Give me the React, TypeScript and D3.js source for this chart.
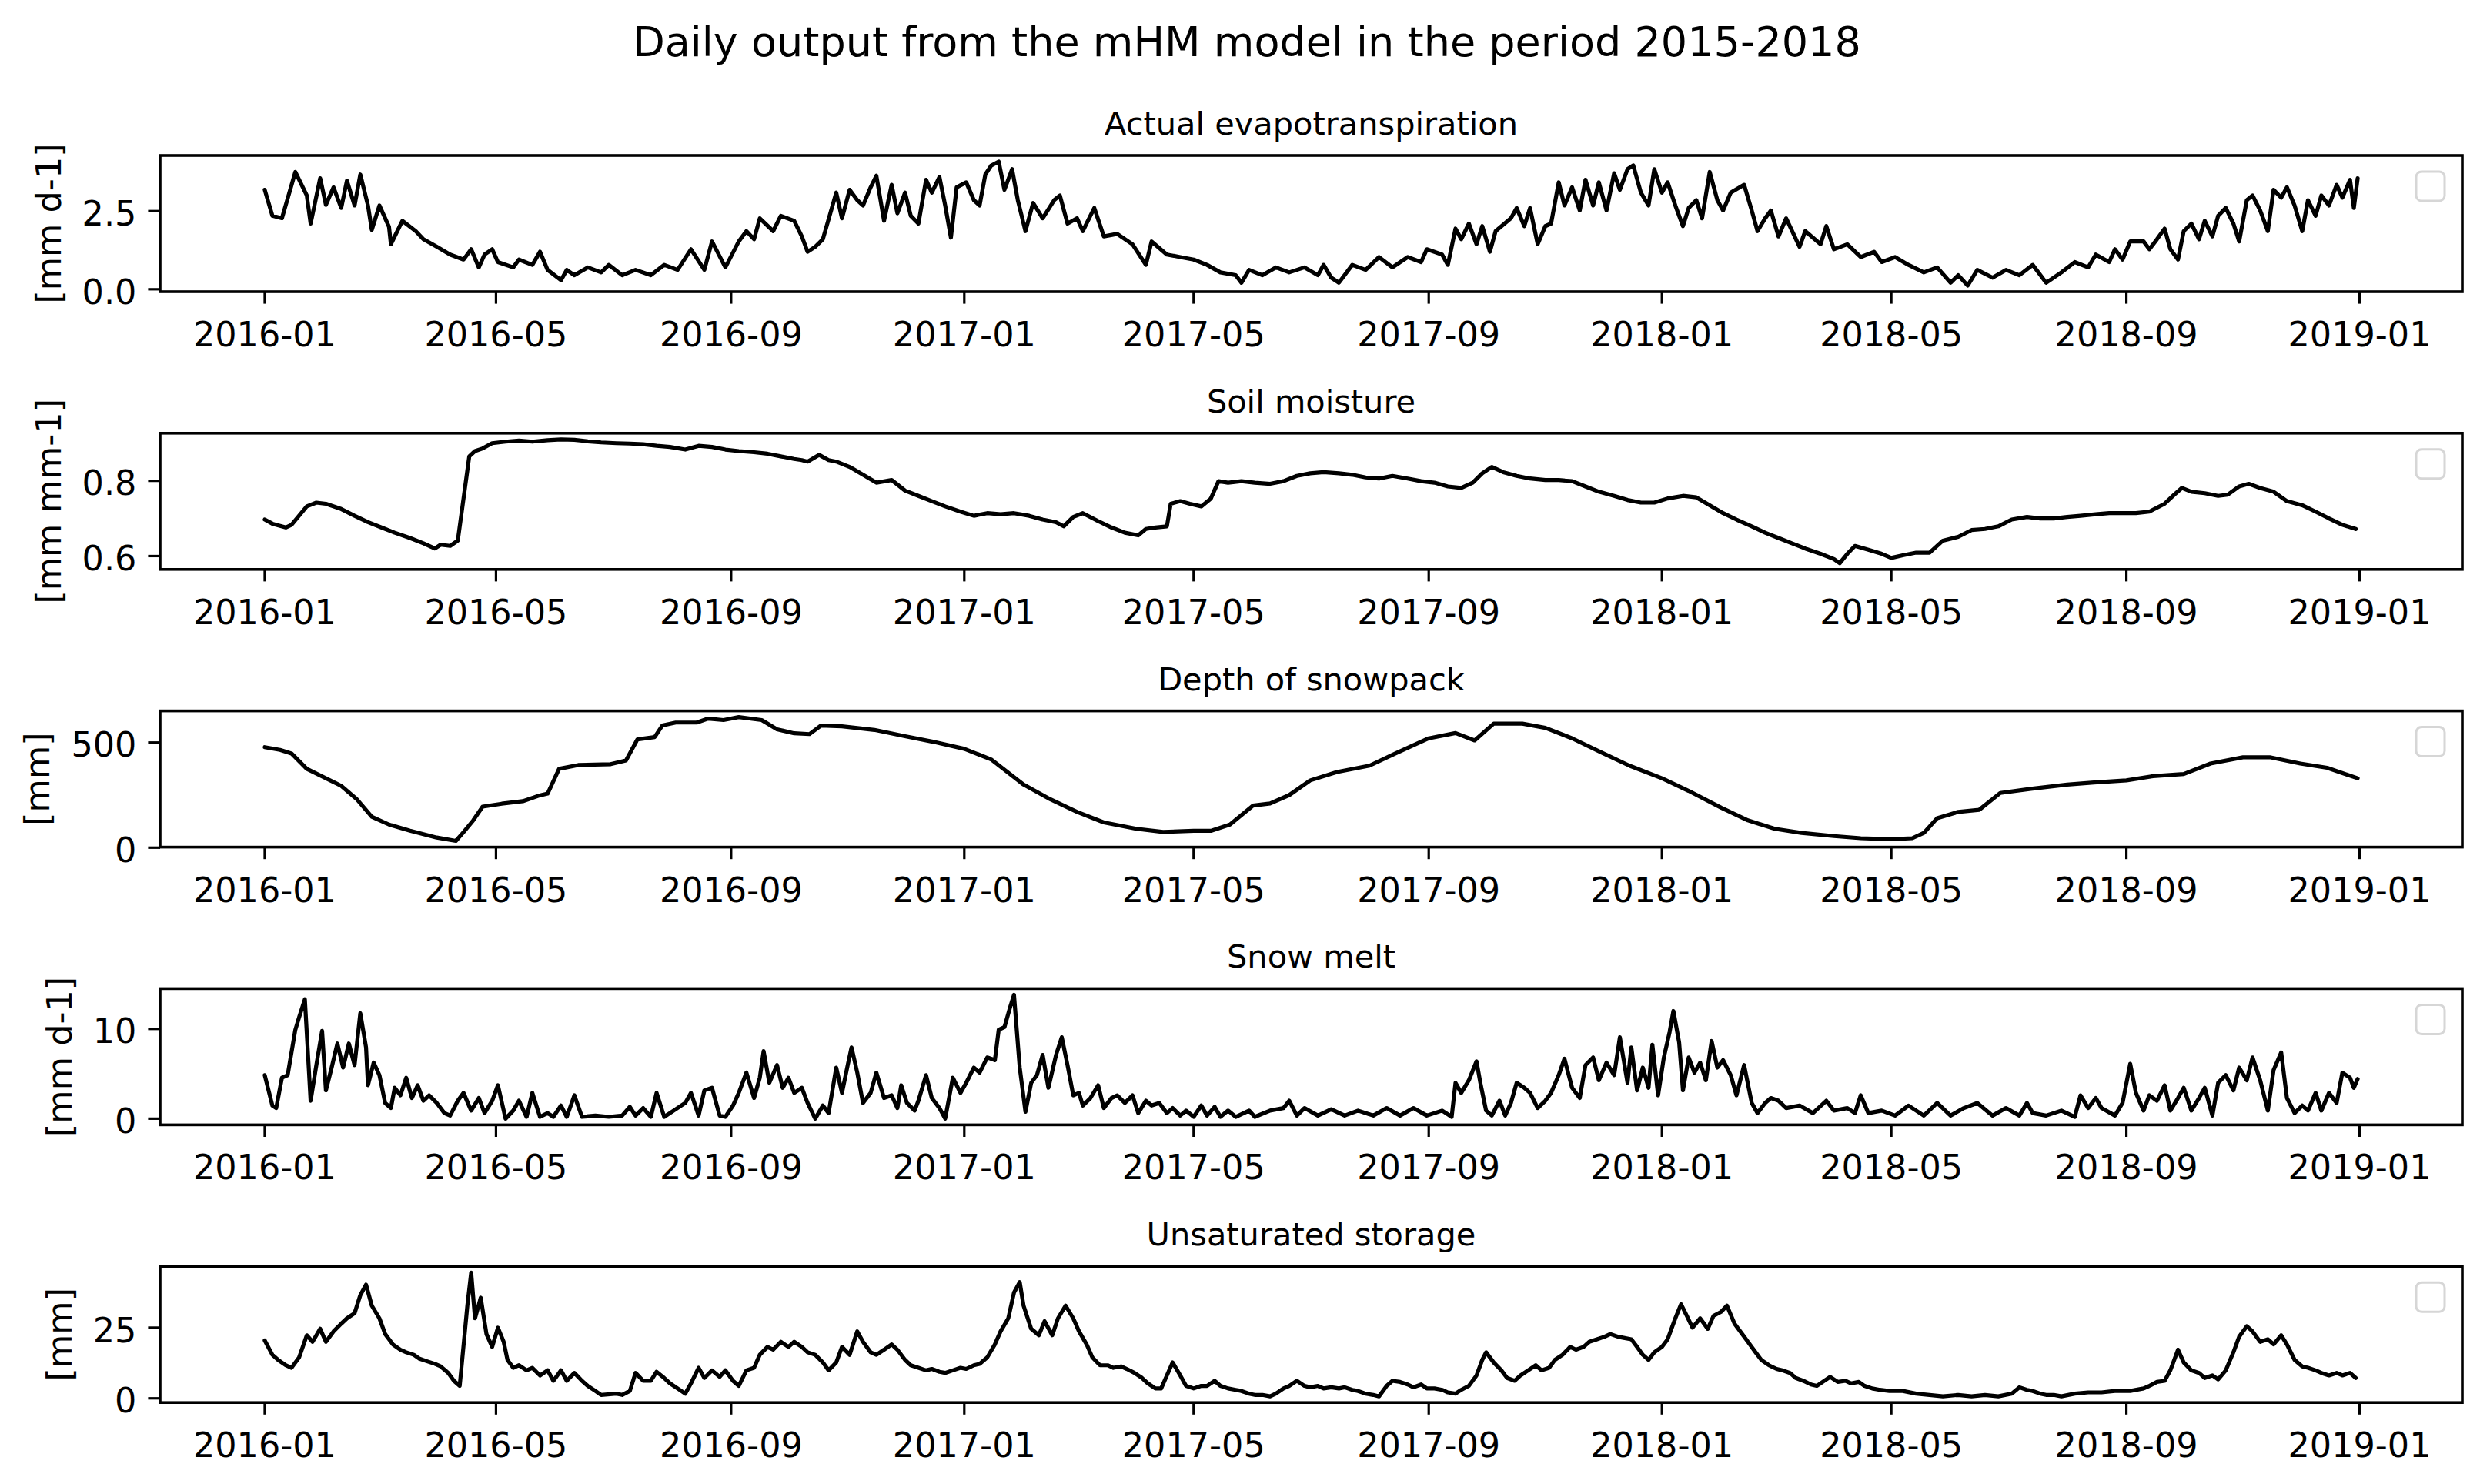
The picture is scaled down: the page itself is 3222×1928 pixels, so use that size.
import React from "react";
import * as d3 from "d3";

// ---------------- data (day offset from 2016-01-01, value) ----------------
const START_DATE = "2016-01-01";

const TITLE = "Daily output from the mHM model in the period 2015-2018";
const PANEL_TITLES = [
  "Actual evapotranspiration",
  "Soil moisture",
  "Depth of snowpack",
  "Snow melt",
  "Unsaturated storage",
];
const Y_LABELS = ["[mm d-1]", "[mm mm-1]", "[mm]", "[mm d-1]", "[mm]"];
const Y_TICKS = [
  [0, 2.5],
  [0.6, 0.8],
  [0, 500],
  [0, 10],
  [0, 25],
];
const Y_FORMATS = [".1f", ".1f", "d", "d", "d"];

const EVAPOTRANSPIRATION: [number, number][] = [
  [0, 3.18], [4, 2.35], [9, 2.27], [16, 3.75], [22, 3.0], [24, 2.1], [29, 3.55], [32, 2.7], [36, 3.26], [40, 2.6],
  [43, 3.47], [47, 2.68], [50, 3.67], [54, 2.68], [56, 1.9], [60, 2.68], [65, 2.0], [66, 1.44], [72, 2.19], [79, 1.86],
  [83, 1.6], [90, 1.36], [97, 1.11], [104, 0.95], [108, 1.28], [112, 0.7], [115, 1.11], [119, 1.28], [122, 0.87], [130, 0.7],
  [133, 0.95], [140, 0.78], [144, 1.2], [148, 0.62], [155, 0.29], [158, 0.62], [162, 0.45], [169, 0.7], [176, 0.54], [180, 0.78],
  [187, 0.45], [194, 0.62], [202, 0.45], [209, 0.78], [216, 0.62], [223, 1.28], [230, 0.62], [234, 1.53], [241, 0.7], [248, 1.53],
  [252, 1.86], [256, 1.6], [259, 2.27], [266, 1.86], [270, 2.35], [277, 2.19], [281, 1.69], [284, 1.2], [288, 1.36], [292, 1.6],
  [299, 3.09], [302, 2.27], [306, 3.18], [310, 2.85], [313, 2.68], [317, 3.26], [320, 3.63], [324, 2.19], [328, 3.34], [331, 2.43],
  [335, 3.09], [338, 2.35], [342, 2.1], [346, 3.5], [349, 3.09], [353, 3.59], [356, 2.68], [359, 1.65], [362, 3.26], [367, 3.42],
  [371, 2.85], [374, 2.68], [377, 3.67], [380, 3.95], [384, 4.08], [387, 3.18], [391, 3.84], [394, 2.85], [398, 1.86], [402, 2.76],
  [407, 2.27], [413, 2.85], [416, 3.0], [420, 2.1], [425, 2.27], [428, 1.86], [434, 2.6], [439, 1.69], [446, 1.77], [454, 1.44],
  [461, 0.78], [464, 1.53], [472, 1.11], [479, 1.03], [486, 0.95], [493, 0.78], [500, 0.54], [508, 0.45], [511, 0.21], [515, 0.62],
  [522, 0.45], [529, 0.7], [536, 0.54], [544, 0.7], [551, 0.45], [554, 0.78], [558, 0.37], [562, 0.21], [569, 0.78], [576, 0.62],
  [583, 1.03], [590, 0.7], [598, 1.03], [605, 0.87], [608, 1.28], [616, 1.11], [619, 0.78], [623, 1.94], [626, 1.6], [630, 2.1],
  [634, 1.44], [637, 2.02], [641, 1.2], [644, 1.86], [652, 2.27], [655, 2.6], [659, 2.02], [662, 2.6], [666, 1.44], [670, 2.02],
  [673, 2.1], [677, 3.42], [680, 2.68], [684, 3.26], [688, 2.52], [691, 3.5], [695, 2.68], [698, 3.42], [702, 2.52], [706, 3.71],
  [709, 3.18], [713, 3.84], [716, 3.96], [720, 3.09], [724, 2.68], [727, 3.84], [731, 3.09], [734, 3.42], [738, 2.68], [742, 2.02],
  [745, 2.6], [749, 2.85], [752, 2.27], [756, 3.75], [760, 2.85], [763, 2.52], [767, 3.09], [774, 3.34], [778, 2.52], [781, 1.86],
  [785, 2.27], [788, 2.52], [792, 1.69], [796, 2.27], [803, 1.36], [806, 1.86], [814, 1.44], [817, 2.02], [821, 1.28], [828, 1.44],
  [835, 1.03], [842, 1.2], [846, 0.87], [853, 1.03], [860, 0.78], [868, 0.54], [875, 0.7], [882, 0.21], [886, 0.45], [891, 0.12],
  [896, 0.62], [904, 0.37], [911, 0.62], [918, 0.45], [925, 0.78], [932, 0.21], [940, 0.54], [947, 0.87], [954, 0.7], [958, 1.11],
  [965, 0.87], [968, 1.28], [972, 0.95], [976, 1.53], [983, 1.53], [986, 1.28], [990, 1.6], [994, 1.94], [997, 1.28], [1001, 0.95],
  [1004, 1.86], [1008, 2.1], [1012, 1.6], [1015, 2.19], [1019, 1.69], [1022, 2.35], [1026, 2.6], [1030, 2.1], [1033, 1.53], [1037, 2.85],
  [1040, 3.0], [1044, 2.52], [1048, 1.86], [1051, 3.18], [1055, 2.93], [1058, 3.26], [1062, 2.68], [1066, 1.86], [1069, 2.85], [1073, 2.35],
  [1076, 3.0], [1080, 2.68], [1084, 3.34], [1087, 2.93], [1091, 3.5], [1093, 2.6], [1095, 3.55],
];

const SOIL_MOISTURE: [number, number][] = [
  [0, 0.697], [4, 0.686], [11, 0.676], [14, 0.683], [22, 0.732], [27, 0.742], [32, 0.739], [40, 0.725], [47, 0.707], [54, 0.69],
  [61, 0.676], [68, 0.662], [76, 0.648], [83, 0.634], [89, 0.62], [92, 0.63], [97, 0.627], [101, 0.641], [104, 0.753], [107, 0.865],
  [110, 0.879], [114, 0.886], [119, 0.9], [126, 0.904], [133, 0.907], [140, 0.904], [148, 0.908], [155, 0.91], [162, 0.909], [169, 0.905],
  [176, 0.902], [184, 0.9], [191, 0.899], [198, 0.897], [205, 0.893], [212, 0.89], [220, 0.883], [227, 0.893], [234, 0.89], [241, 0.883],
  [248, 0.879], [256, 0.876], [263, 0.872], [270, 0.865], [277, 0.858], [281, 0.855], [284, 0.851], [290, 0.869], [295, 0.855], [299, 0.851],
  [306, 0.837], [313, 0.816], [320, 0.795], [328, 0.802], [335, 0.774], [342, 0.76], [349, 0.746], [356, 0.732], [364, 0.718], [371, 0.707],
  [378, 0.714], [385, 0.711], [392, 0.714], [400, 0.707], [407, 0.697], [414, 0.69], [418, 0.679], [423, 0.704], [428, 0.714], [436, 0.693],
  [443, 0.676], [450, 0.662], [457, 0.655], [461, 0.672], [466, 0.676], [472, 0.679], [474, 0.739], [479, 0.746], [484, 0.739], [490, 0.732],
  [495, 0.753], [499, 0.799], [504, 0.795], [511, 0.799], [518, 0.795], [526, 0.792], [533, 0.799], [540, 0.813], [547, 0.82], [554, 0.823],
  [562, 0.82], [569, 0.816], [576, 0.809], [583, 0.806], [590, 0.813], [598, 0.806], [605, 0.799], [612, 0.795], [619, 0.785], [626, 0.781],
  [632, 0.795], [637, 0.82], [642, 0.837], [648, 0.823], [655, 0.813], [662, 0.806], [670, 0.802], [677, 0.802], [684, 0.799], [691, 0.785],
  [698, 0.771], [706, 0.76], [713, 0.749], [720, 0.742], [727, 0.742], [734, 0.753], [742, 0.76], [749, 0.756], [756, 0.735], [763, 0.714],
  [770, 0.697], [778, 0.679], [785, 0.662], [792, 0.648], [799, 0.634], [806, 0.62], [814, 0.606], [821, 0.592], [824, 0.581], [828, 0.606],
  [832, 0.627], [839, 0.617], [846, 0.606], [851, 0.595], [857, 0.602], [864, 0.609], [871, 0.609], [878, 0.641], [886, 0.651], [893, 0.669],
  [900, 0.672], [907, 0.679], [914, 0.697], [922, 0.704], [929, 0.7], [936, 0.7], [943, 0.704], [950, 0.707], [958, 0.711], [965, 0.714],
  [972, 0.714], [979, 0.714], [986, 0.718], [994, 0.739], [999, 0.763], [1003, 0.781], [1008, 0.771], [1015, 0.767], [1022, 0.76], [1027, 0.763],
  [1033, 0.785], [1038, 0.792], [1044, 0.781], [1051, 0.771], [1058, 0.746], [1066, 0.735], [1073, 0.718], [1080, 0.7], [1087, 0.683], [1094, 0.672],
];

const SNOWPACK: [number, number][] = [
  [0, 478], [8, 465], [14, 448], [22, 375], [40, 294], [48, 232], [56, 147], [65, 110], [76, 81], [90, 48],
  [100, 32], [104, 74], [109, 129], [114, 195], [124, 209], [135, 221], [143, 246], [148, 257], [154, 375], [164, 393],
  [181, 397], [189, 415], [195, 515], [204, 526], [208, 581], [215, 595], [226, 595], [232, 614], [240, 607], [248, 621],
  [260, 607], [268, 563], [277, 544], [285, 540], [291, 581], [302, 577], [319, 560], [335, 530], [349, 505], [366, 470],
  [380, 420], [397, 300], [411, 230], [425, 170], [439, 120], [456, 90], [470, 75], [486, 80], [495, 80], [505, 110],
  [517, 200], [526, 210], [536, 250], [547, 320], [561, 360], [578, 390], [592, 450], [609, 520], [623, 545], [633, 510],
  [643, 590], [658, 590], [670, 570], [684, 520], [700, 450], [714, 390], [731, 330], [745, 270], [762, 190], [776, 130],
  [790, 90], [804, 70], [821, 55], [835, 45], [851, 40], [862, 45], [868, 70], [875, 140], [886, 170], [897, 180],
  [908, 260], [924, 280], [943, 300], [957, 310], [974, 320], [988, 340], [1004, 350], [1018, 400], [1035, 430], [1049, 430],
  [1065, 400], [1079, 380], [1095, 330],
];

const SNOW_MELT: [number, number][] = [
  [0, 4.85], [4, 1.46], [6, 1.18], [9, 4.56], [12, 4.85], [16, 9.9], [18, 11.3], [21, 13.3], [24, 2.0], [27, 5.97],
  [30, 9.77], [32, 3.15], [35, 5.69], [38, 8.37], [41, 5.69], [44, 8.37], [47, 5.97], [50, 11.75], [53, 7.94], [54, 3.72],
  [57, 6.25], [60, 4.85], [63, 1.75], [66, 1.18], [68, 3.44], [71, 2.6], [74, 4.56], [77, 2.3], [80, 3.72], [83, 2.0],
  [86, 2.6], [90, 1.75], [94, 0.62], [97, 0.34], [101, 2.0], [104, 2.87], [108, 0.9], [112, 2.3], [115, 0.62], [119, 2.0],
  [122, 3.72], [126, 0.0], [130, 0.9], [133, 2.0], [137, 0.2], [140, 2.87], [144, 0.2], [148, 0.62], [151, 0.2], [155, 1.46],
  [158, 0.2], [162, 2.6], [166, 0.2], [173, 0.34], [180, 0.2], [187, 0.34], [191, 1.32], [194, 0.34], [198, 1.18], [202, 0.2],
  [205, 2.87], [209, 0.2], [212, 0.62], [220, 1.75], [223, 2.87], [227, 0.34], [230, 3.15], [234, 3.44], [238, 0.34], [241, 0.2],
  [245, 1.46], [248, 2.87], [252, 5.13], [256, 2.3], [259, 4.56], [261, 7.52], [264, 4.0], [268, 5.97], [271, 3.44], [274, 4.56],
  [277, 2.87], [281, 3.44], [284, 1.75], [288, 0.0], [292, 1.46], [295, 0.62], [299, 5.69], [302, 2.87], [305, 5.97], [307, 7.94],
  [310, 5.13], [313, 1.75], [317, 2.87], [320, 5.13], [324, 2.3], [328, 2.6], [331, 1.18], [333, 3.72], [336, 1.75], [340, 0.9],
  [342, 2.0], [346, 4.85], [349, 2.3], [353, 1.18], [356, 0.0], [360, 4.56], [364, 2.87], [367, 4.0], [371, 5.69], [374, 5.13],
  [378, 6.82], [382, 6.53], [384, 9.9], [387, 10.2], [390, 12.45], [392, 13.8], [395, 5.69], [398, 0.76], [401, 4.0], [404, 4.85],
  [407, 7.1], [410, 3.44], [414, 7.1], [417, 9.07], [420, 5.97], [423, 2.6], [426, 2.87], [428, 1.46], [432, 2.3], [436, 3.72],
  [439, 1.18], [443, 2.3], [446, 2.6], [450, 1.75], [454, 2.6], [457, 0.62], [461, 2.0], [464, 1.46], [468, 1.75], [472, 0.62],
  [475, 1.18], [479, 0.34], [482, 0.9], [486, 0.2], [490, 1.46], [493, 0.34], [497, 1.32], [500, 0.2], [504, 0.9], [508, 0.2],
  [515, 0.9], [518, 0.2], [526, 0.9], [533, 1.18], [536, 2.0], [540, 0.34], [544, 1.18], [551, 0.34], [558, 1.04], [565, 0.34],
  [572, 0.9], [580, 0.34], [587, 1.18], [594, 0.34], [601, 1.18], [608, 0.34], [616, 0.9], [621, 0.2], [623, 4.0], [626, 2.87],
  [630, 4.28], [634, 6.39], [636, 4.0], [639, 0.9], [642, 0.34], [646, 2.0], [649, 0.34], [652, 1.75], [655, 4.0], [659, 3.44],
  [662, 2.87], [666, 1.18], [670, 2.0], [673, 2.87], [677, 4.85], [680, 6.68], [684, 3.44], [688, 2.3], [691, 5.97], [695, 6.82],
  [698, 4.28], [702, 6.25], [706, 4.85], [709, 9.07], [713, 4.0], [715, 7.94], [718, 3.15], [721, 5.69], [724, 3.44], [726, 8.23],
  [729, 2.6], [732, 6.82], [735, 9.63], [737, 12.0], [740, 8.5], [742, 3.15], [745, 6.82], [748, 5.13], [751, 6.25], [754, 4.28],
  [757, 8.65], [760, 5.69], [763, 6.53], [767, 4.85], [770, 2.6], [774, 5.97], [778, 1.75], [781, 0.62], [785, 1.75], [788, 2.3],
  [792, 2.0], [796, 1.18], [803, 1.46], [810, 0.62], [817, 2.0], [821, 0.9], [828, 1.18], [832, 0.62], [835, 2.6], [839, 0.62],
  [846, 0.9], [853, 0.34], [860, 1.46], [868, 0.34], [875, 1.75], [882, 0.34], [889, 1.18], [896, 1.75], [904, 0.34], [911, 1.18],
  [918, 0.34], [922, 1.75], [925, 0.62], [932, 0.34], [940, 0.9], [947, 0.2], [950, 2.6], [954, 1.18], [958, 2.3], [961, 1.18],
  [968, 0.34], [972, 1.75], [976, 6.11], [979, 2.87], [983, 0.9], [986, 2.6], [990, 2.0], [994, 3.72], [997, 0.9], [1001, 2.3],
  [1004, 3.44], [1008, 0.9], [1012, 2.3], [1015, 3.44], [1019, 0.34], [1022, 4.0], [1026, 4.85], [1030, 3.15], [1033, 5.69], [1037, 4.28],
  [1040, 6.82], [1044, 4.28], [1048, 0.9], [1051, 5.41], [1055, 7.38], [1058, 2.3], [1062, 0.62], [1066, 1.46], [1069, 0.9], [1073, 2.87],
  [1076, 0.9], [1080, 2.87], [1084, 1.75], [1087, 5.13], [1091, 4.56], [1093, 3.44], [1095, 4.42],
];

const UNSATURATED_STORAGE: [number, number][] = [
  [0, 20.5], [4, 15.4], [7, 13.6], [11, 11.7], [14, 10.8], [18, 14.5], [22, 22.3], [25, 20.0], [29, 24.6], [32, 20.0],
  [36, 23.7], [40, 26.4], [43, 28.3], [47, 30.1], [50, 36.5], [53, 40.2], [56, 32.8], [60, 28.3], [63, 22.75], [67, 19.1],
  [71, 17.2], [74, 16.3], [78, 15.4], [81, 14.0], [85, 13.1], [89, 12.2], [92, 11.3], [96, 9.0], [99, 6.2], [102, 4.4],
  [106, 32.8], [108, 44.5], [110, 28.3], [113, 35.6], [116, 22.75], [119, 18.2], [122, 25.0], [125, 20.0], [127, 13.6], [130, 10.8],
  [133, 11.7], [137, 9.9], [140, 10.8], [144, 8.1], [148, 9.9], [151, 6.2], [155, 9.9], [158, 6.2], [162, 9.0], [166, 6.2],
  [169, 4.4], [173, 2.6], [176, 1.2], [184, 1.65], [187, 1.2], [191, 2.6], [194, 9.0], [198, 6.2], [202, 6.2], [205, 9.4],
  [209, 7.2], [212, 5.3], [216, 3.5], [220, 1.65], [223, 5.3], [227, 10.8], [230, 7.2], [234, 9.9], [238, 7.6], [241, 9.9],
  [245, 6.2], [248, 4.4], [252, 9.9], [256, 10.8], [259, 15.4], [263, 18.2], [266, 17.2], [270, 20.0], [274, 18.2], [277, 20.0],
  [281, 18.2], [284, 16.3], [288, 15.4], [292, 12.7], [295, 9.9], [299, 12.7], [302, 18.2], [306, 15.4], [310, 23.7], [313, 20.0],
  [317, 16.3], [320, 15.4], [324, 17.2], [328, 19.1], [331, 17.2], [335, 13.6], [338, 11.7], [342, 10.8], [346, 9.9], [349, 10.4],
  [353, 9.4], [356, 9.0], [360, 9.9], [364, 10.8], [367, 10.4], [371, 11.7], [374, 12.2], [378, 14.5], [382, 19.1], [385, 23.7],
  [389, 28.3], [392, 37.4], [395, 41.1], [397, 32.8], [401, 24.6], [405, 22.3], [408, 27.3], [412, 22.3], [415, 28.3], [419, 32.8],
  [423, 28.3], [426, 23.7], [430, 19.1], [433, 14.5], [437, 11.7], [441, 11.7], [444, 10.8], [448, 11.3], [451, 10.4], [455, 9.0],
  [459, 7.2], [462, 5.3], [466, 3.5], [469, 3.5], [472, 8.1], [475, 12.7], [479, 8.1], [482, 4.4], [486, 3.5], [490, 4.4],
  [493, 4.4], [497, 6.2], [500, 4.4], [504, 3.5], [508, 3.0], [511, 2.6], [515, 1.65], [518, 1.2], [522, 1.2], [526, 0.7],
  [529, 1.65], [533, 3.5], [536, 4.4], [540, 6.2], [544, 4.4], [547, 3.9], [551, 4.4], [554, 3.5], [558, 3.9], [562, 3.5],
  [565, 3.9], [569, 3.0], [572, 2.6], [576, 1.65], [580, 1.2], [583, 0.7], [587, 4.4], [590, 6.2], [594, 5.8], [598, 4.9],
  [601, 3.9], [605, 4.9], [608, 3.5], [612, 3.5], [616, 3.0], [619, 2.1], [623, 1.65], [626, 3.0], [630, 4.4], [634, 8.1],
  [637, 13.6], [639, 16.3], [643, 12.7], [647, 9.9], [650, 7.2], [654, 6.2], [657, 8.1], [661, 9.9], [665, 11.7], [668, 9.9],
  [672, 10.8], [675, 13.6], [679, 15.4], [683, 18.2], [686, 17.2], [690, 18.2], [693, 20.0], [697, 20.9], [701, 21.8], [704, 22.75],
  [708, 21.8], [711, 21.4], [715, 20.9], [718, 18.2], [721, 15.4], [724, 13.6], [727, 16.3], [731, 18.2], [734, 20.9], [738, 28.3],
  [741, 33.3], [744, 29.2], [747, 25.0], [751, 28.3], [755, 24.6], [758, 29.2], [762, 30.6], [765, 32.8], [769, 26.4], [773, 22.75],
  [776, 20.0], [780, 16.3], [783, 13.6], [787, 11.7], [791, 10.4], [794, 9.9], [798, 9.0], [801, 7.2], [805, 6.2], [809, 4.9],
  [812, 4.4], [816, 6.2], [819, 7.6], [823, 5.8], [827, 6.2], [830, 5.3], [834, 5.8], [837, 4.4], [841, 3.5], [845, 3.0],
  [850, 2.6], [857, 2.6], [864, 1.65], [871, 1.2], [878, 0.7], [886, 1.2], [893, 0.7], [900, 1.2], [907, 0.7], [914, 1.65],
  [918, 3.9], [922, 3.0], [925, 2.6], [929, 1.65], [932, 1.2], [936, 1.2], [940, 0.7], [947, 1.65], [954, 2.1], [961, 2.1],
  [968, 2.6], [976, 2.6], [983, 3.5], [986, 4.4], [990, 5.8], [994, 6.2], [997, 9.9], [1001, 17.2], [1004, 12.7], [1008, 9.9],
  [1012, 9.0], [1015, 7.2], [1019, 8.1], [1022, 6.7], [1026, 9.9], [1030, 16.3], [1033, 21.8], [1037, 25.5], [1040, 23.7], [1044, 20.0],
  [1048, 20.9], [1051, 19.1], [1055, 22.3], [1058, 19.1], [1062, 13.6], [1066, 11.3], [1069, 10.8], [1073, 9.9], [1076, 9.0], [1080, 8.1],
  [1084, 9.0], [1087, 8.1], [1091, 9.0], [1094, 7.2],
];

const SERIES = [EVAPOTRANSPIRATION, SOIL_MOISTURE, SNOWPACK, SNOW_MELT, UNSATURATED_STORAGE];

// ---------------- layout ----------------
const W = 3222;
const H = 1928;
const AX_LEFT = 208;
const AX_RIGHT = 3199;
const AX_TOP0 = 202;
const AX_STEP = 360.8;
const AX_H = 177;
const FONT = "DejaVu Sans, Verdana, sans-serif";
const TICK_FS = 44.5;
const TITLE_FS = 41.5;
const SUPTITLE_FS = 54;
const TICK_LEN = 15.6;

const start = d3.utcParse("%Y-%m-%d")(START_DATE) as Date;
const toDate = (d: number) => d3.utcDay.offset(start, d);

function measure(text: string, size: number): number {
  if (typeof document === "undefined") return text.length * size * 0.6;
  const c = document.createElement("canvas");
  const ctx = c.getContext("2d");
  if (!ctx) return text.length * size * 0.6;
  ctx.font = `${size}px "DejaVu Sans"`;
  return ctx.measureText(text).width;
}

function padExtent(ext: [number, number]): [number, number] {
  const r = ext[1] - ext[0];
  return [ext[0] - 0.05 * r, ext[1] + 0.05 * r];
}

const allDays = SERIES.flatMap((s) => s.map((p) => p[0]));
const dayExt = padExtent(d3.extent(allDays) as [number, number]);
const xScale = d3
  .scaleUtc()
  .domain([
    new Date(start.getTime() + dayExt[0] * 86400000),
    new Date(start.getTime() + dayExt[1] * 86400000),
  ])
  .range([AX_LEFT, AX_RIGHT]);
const xTicks = xScale.ticks(d3.utcMonth.every(4) as d3.TimeInterval);
const xFmt = d3.utcFormat("%Y-%m");

function Panel({ i }: { i: number }) {
  const data = SERIES[i];
  const top = AX_TOP0 + i * AX_STEP;
  const bottom = top + AX_H;
  const yExt = padExtent(d3.extent(data, (d) => d[1]) as [number, number]);
  const y = d3.scaleLinear().domain(yExt).range([bottom, top]);
  const line = d3
    .line<[number, number]>()
    .x((d) => xScale(toDate(d[0])))
    .y((d) => y(d[1]));
  const fmt = d3.format(Y_FORMATS[i]);
  const labels = Y_TICKS[i].map((t) => fmt(t));
  const maxW = Math.max(...labels.map((l) => measure(l, TICK_FS)));
  const labelEnd = AX_LEFT - TICK_LEN - 21;
  const yLabelX = labelEnd - maxW - 22;
  const midY = (top + bottom) / 2;
  return (
    <g>
      <text
        x={(AX_LEFT + AX_RIGHT) / 2}
        y={top - 27}
        textAnchor="middle"
        fontFamily={FONT}
        fontSize={TITLE_FS}
        fill="#000"
      >
        {PANEL_TITLES[i]}
      </text>
      <path
        d={line(data) || ""}
        fill="none"
        stroke="#000"
        strokeWidth={5.2}
        strokeLinejoin="round"
        strokeLinecap="round"
      />
      <rect
        x={AX_LEFT}
        y={top}
        width={AX_RIGHT - AX_LEFT}
        height={AX_H}
        fill="none"
        stroke="#000"
        strokeWidth={3.6}
      />
      {xTicks.map((t, k) => (
        <g key={k}>
          <line
            x1={xScale(t)}
            x2={xScale(t)}
            y1={bottom}
            y2={bottom + TICK_LEN}
            stroke="#000"
            strokeWidth={3.2}
          />
          <text
            x={xScale(t)}
            y={bottom + 71}
            textAnchor="middle"
            fontFamily={FONT}
            fontSize={TICK_FS}
            fill="#000"
          >
            {xFmt(t)}
          </text>
        </g>
      ))}
      {Y_TICKS[i].map((t, k) => (
        <g key={k}>
          <line
            x1={AX_LEFT - TICK_LEN}
            x2={AX_LEFT}
            y1={y(t)}
            y2={y(t)}
            stroke="#000"
            strokeWidth={3.2}
          />
          <text
            x={labelEnd + 6}
            y={y(t)}
            dy="0.42em"
            textAnchor="end"
            fontFamily={FONT}
            fontSize={TICK_FS}
            fill="#000"
          >
            {labels[k]}
          </text>
        </g>
      ))}
      <text
        transform={`translate(${yLabelX},${midY}) rotate(-90)`}
        textAnchor="middle"
        fontFamily={FONT}
        fontSize={TICK_FS}
        fill="#000"
      >
        {Y_LABELS[i]}
      </text>
      <rect
        x={AX_RIGHT - 23 - 37}
        y={top + 21}
        width={37}
        height={38}
        rx={7}
        fill="#fff"
        stroke="#d6d6d6"
        strokeWidth={3}
      />
    </g>
  );
}

export default function App() {
  return (
    <svg
      width={W}
      height={H}
      viewBox={`0 0 ${W} ${H}`}
      style={{ position: "absolute", left: 0, top: 0, background: "#fff" }}
    >
      <rect x={0} y={0} width={W} height={H} fill="#fff" />
      <text
        x={1620}
        y={73}
        textAnchor="middle"
        fontFamily={FONT}
        fontSize={SUPTITLE_FS}
        fill="#000"
      >
        {TITLE}
      </text>
      {SERIES.map((_, i) => (
        <Panel key={i} i={i} />
      ))}
    </svg>
  );
}
